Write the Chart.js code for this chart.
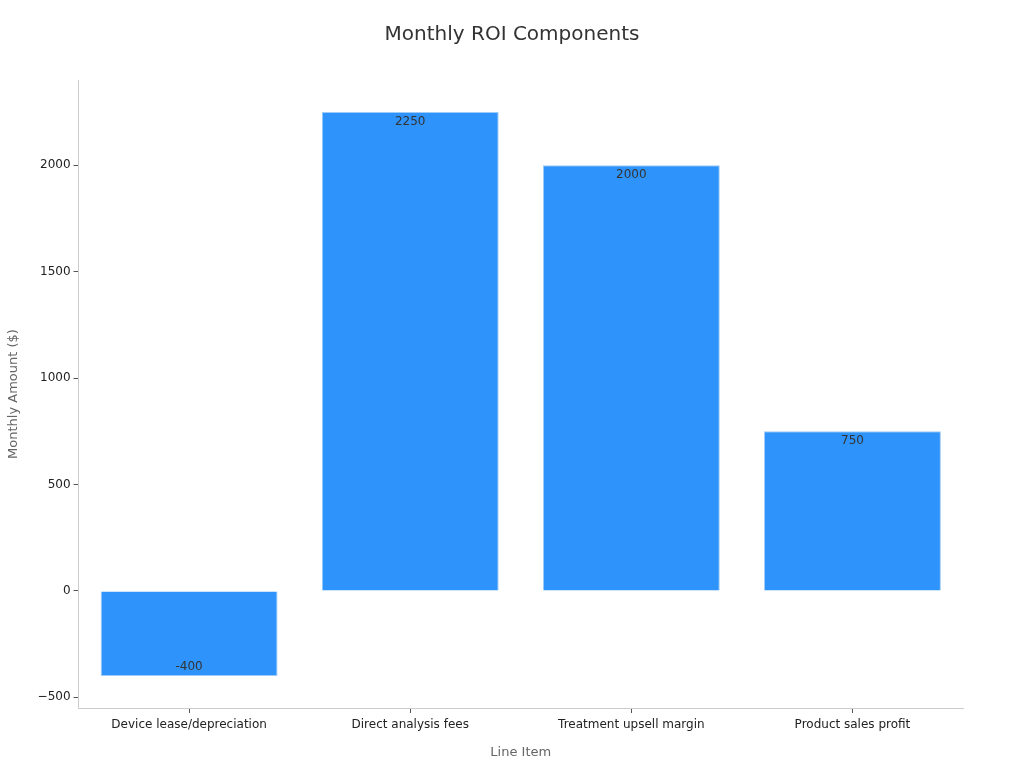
<!DOCTYPE html>
<html>
<head>
<meta charset="utf-8">
<script src="https://cdn.jsdelivr.net/npm/chart.js@4.4.1/dist/chart.umd.min.js"></script>
<style>
html,body{margin:0;padding:0;background:#fff;}
#wrap{width:1024px;height:768px;}
</style>
</head>
<body>
<div id="wrap"><canvas id="c" width="1024" height="768"></canvas></div>
<script>
const categories = ["Device lease/depreciation", "Direct analysis fees", "Treatment upsell margin", "Product sales profit"];
const values = [-400, 2250, 2000, 750];
const yTicks = [-500, 0, 500, 1000, 1500, 2000];
const chartTitle = "Monthly ROI Components";

const FONT = "'DejaVu Sans', sans-serif";

const labelPlugin = {
  id: 'barLabels',
  afterDatasetsDraw(chart) {
    const ctx = chart.ctx;
    const meta = chart.getDatasetMeta(0);
    ctx.save();
    ctx.font = "12px " + FONT;
    ctx.fillStyle = "#333";
    ctx.textAlign = "center";
    ctx.textBaseline = "middle";
    meta.data.forEach((bar, i) => {
      const v = values[i];
      const y = v >= 0 ? bar.y + 10 : bar.y - 9;
      ctx.fillText(String(v), bar.x, y);
    });
    ctx.restore();
  }
};

const titlePlugin = {
  id: 'centerTitle',
  afterDraw(chart) {
    const ctx = chart.ctx;
    ctx.save();
    ctx.font = "20px " + FONT;
    ctx.fillStyle = "#333";
    ctx.textAlign = "center";
    ctx.textBaseline = "middle";
    ctx.fillText(chartTitle, chart.width / 2, 35);
    ctx.restore();
  }
};

new Chart(document.getElementById('c'), {
  type: 'bar',
  data: {
    labels: categories,
    datasets: [{
      data: values,
      backgroundColor: '#2E93FA',
      borderColor: '#9ECBF7',
      borderWidth: 1,
      categoryPercentage: 0.8,
      barPercentage: 1.0
    }]
  },
  options: {
    responsive: false,
    animation: false,
    devicePixelRatio: 1,
    layout: { padding: { left: 6, right: 61, top: 80, bottom: 8 } },
    plugins: {
      legend: { display: false },
      tooltip: { enabled: false },
      title: { display: false }
    },
    scales: {
      x: {
        grid: { display: true, offset: false, drawOnChartArea: false, drawTicks: true, tickLength: 5, color: '#555' },
        border: { display: true, color: '#ccc' },
        ticks: { color: '#222', font: { family: FONT, size: 12 }, padding: 5 },
        title: { display: true, text: 'Line Item', color: '#666', font: { family: FONT, size: 13 }, padding: { top: 7, bottom: 0 } }
      },
      y: {
        min: -550,
        max: 2400,
        afterBuildTicks(axis) { axis.ticks = yTicks.map(v => ({ value: v })); },
        grid: { display: true, drawOnChartArea: false, drawTicks: true, tickLength: 5, color: '#555' },
        border: { display: true, color: '#ccc' },
        ticks: {
          color: '#222',
          font: { family: FONT, size: 12 },
          padding: 3,
          callback: (v) => String(v).replace('-', '\u2212')
        },
        title: { display: true, text: 'Monthly Amount ($)', color: '#666', font: { family: FONT, size: 13 }, padding: { top: 0, bottom: 13 } }
      }
    }
  },
  plugins: [labelPlugin, titlePlugin]
});
</script>
</body>
</html>
